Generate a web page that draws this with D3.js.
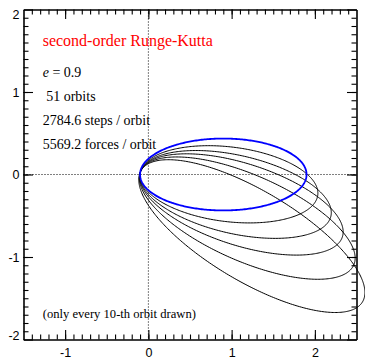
<!DOCTYPE html>
<html>
<head>
<meta charset="utf-8">
<script src="https://cdn.jsdelivr.net/npm/d3@7"></script>
<style>
  body { margin: 0; background: #fff; }
  svg { display: block; }
  .axis path, .axis line { stroke: #000; stroke-width: 1.1; }
  .axis text { font-family: "Liberation Sans", Arial, sans-serif; font-size: 12.5px; fill: #000; }
  .note { font-family: "Liberation Serif", "Times New Roman", serif; fill: #000; }
</style>
</head>
<body>
<svg class="chart"></svg>
<script>
// orbits drawn: every 10th of 51, focus at the origin
var orbitNumber = [0, 10, 20, 30, 40, 50];
var periDist = [0.1, 0.1, 0.1, 0.1, 0.1, 0.1];     // pericentre distance
var apoDist = [1.9, 2.05, 2.25, 2.45, 2.7, 3.0];   // apocentre distance
var apseAngle = [0, -7, -13, -18, -24, -31];       // direction of apocentre, degrees

var xMajorTicks = [-1, 0, 1, 2];
var yMajorTicks = [-2, -1, 0, 1, 2];

var infoLines = [" 51 orbits", "2784.6 steps / orbit", "5569.2 forces / orbit"];

const canvas = {width: 365, height: 359};
const box = {left: 23.5, right: 356.5, top: 9.5, bottom: 339.5};

const x = d3.scaleLinear().domain([-1.5, 2.5]).range([box.left, box.right]);
const y = d3.scaleLinear().domain([-2, 2]).range([box.bottom, box.top]);

const chart = d3.select(".chart")
    .attr("width", canvas.width)
    .attr("height", canvas.height);

const xMinor = d3.range(-14, 25).map(i => i / 10);
const yMinor = d3.range(-19, 20).map(i => i / 10);
const plainNum = d => String(d);

// minor ticks, all four sides
chart.append("g").attr("class", "axis")
    .attr("transform", "translate(0," + box.bottom + ")")
    .call(d3.axisBottom(x).tickValues(xMinor).tickSize(-5).tickSizeOuter(0).tickFormat(""));
chart.append("g").attr("class", "axis")
    .attr("transform", "translate(0," + box.top + ")")
    .call(d3.axisTop(x).tickValues(xMinor).tickSize(-5).tickSizeOuter(0).tickFormat(""));
chart.append("g").attr("class", "axis")
    .attr("transform", "translate(" + box.left + ",0)")
    .call(d3.axisLeft(y).tickValues(yMinor).tickSize(-5).tickSizeOuter(0).tickFormat(""));
chart.append("g").attr("class", "axis")
    .attr("transform", "translate(" + box.right + ",0)")
    .call(d3.axisRight(y).tickValues(yMinor).tickSize(-5).tickSizeOuter(0).tickFormat(""));

// major ticks
chart.append("g").attr("class", "axis")
    .attr("transform", "translate(0," + box.bottom + ")")
    .call(d3.axisBottom(x).tickValues(xMajorTicks).tickSize(-9.5).tickSizeOuter(0).tickPadding(9).tickFormat(plainNum));
chart.append("g").attr("class", "axis")
    .attr("transform", "translate(0," + box.top + ")")
    .call(d3.axisTop(x).tickValues(xMajorTicks).tickSize(-9.5).tickSizeOuter(0).tickFormat(""));
chart.append("g").attr("class", "axis")
    .attr("transform", "translate(" + box.right + ",0)")
    .call(d3.axisRight(y).tickValues(yMajorTicks).tickSize(-9.5).tickSizeOuter(0).tickFormat(""));
chart.append("g").attr("class", "axis")
    .attr("transform", "translate(" + box.left + ",0)")
    .call(d3.axisLeft(y).tickValues(yMajorTicks).tickSize(-9.5).tickSizeOuter(0).tickPadding(4).tickFormat(plainNum))
    .selectAll("text")
    .attr("y", d => d === 2 ? 4.5 : (d === -2 ? -4.5 : 0));

// dotted zero lines
chart.append("line")
    .attr("x1", x(0)).attr("x2", x(0)).attr("y1", box.top).attr("y2", box.bottom)
    .attr("stroke", "#000").attr("stroke-width", 1).attr("stroke-dasharray", "1,2");
chart.append("line")
    .attr("x1", box.left).attr("x2", box.right).attr("y1", y(0)).attr("y2", y(0))
    .attr("stroke", "#000").attr("stroke-width", 1).attr("stroke-dasharray", "1,2");

// orbit outline from pericentre/apocentre and apse direction
function orbitPoints(i) {
    const q = periDist[i], Q = apoDist[i];
    const a = (q + Q) / 2, c = (Q - q) / 2, b = Math.sqrt(q * Q);
    const th = apseAngle[i] * Math.PI / 180;
    const ux = Math.cos(th), uy = Math.sin(th);
    return d3.range(0, 360, 1).map(function(deg) {
        const p = deg * Math.PI / 180;
        const ex = c + a * Math.cos(p), ey = b * Math.sin(p);
        return [ex * ux - ey * uy, ex * uy + ey * ux];
    });
}

const line = d3.line()
    .x(d => x(d[0]))
    .y(d => y(d[1]))
    .curve(d3.curveLinearClosed);

const order = d3.range(orbitNumber.length).reverse();
chart.selectAll("path.orbit")
    .data(order)
    .enter().append("path")
    .attr("class", "orbit")
    .attr("d", i => line(orbitPoints(i)))
    .attr("fill", "none")
    .attr("stroke", i => orbitNumber[i] === 0 ? "#0000ff" : "#000")
    .attr("stroke-width", i => orbitNumber[i] === 0 ? 1.8 : 1);

// labels
chart.append("text")
    .attr("class", "note")
    .attr("x", 42.7).attr("y", 45.7)
    .style("font-size", "16px")
    .style("fill", "#ff0000")
    .text("second-order Runge-Kutta");

const eLabel = chart.append("text")
    .attr("class", "note")
    .attr("x", 42.7).attr("y", 77.3)
    .style("font-size", "14px");
eLabel.append("tspan").style("font-style", "italic").text("e");
eLabel.append("tspan").text(" = 0.9");

chart.selectAll("text.info")
    .data(infoLines)
    .enter().append("text")
    .attr("class", "note info")
    .attr("x", 42.7)
    .attr("y", (d, i) => 101.3 + i * 23.8)
    .style("font-size", "14px")
    .style("white-space", "pre")
    .attr("xml:space", "preserve")
    .text(d => d);

chart.append("text")
    .attr("class", "note")
    .attr("x", 42.7).attr("y", 317.7)
    .style("font-size", "12.6px")
    .text("(only every 10-th orbit drawn)");
</script>
</body>
</html>
